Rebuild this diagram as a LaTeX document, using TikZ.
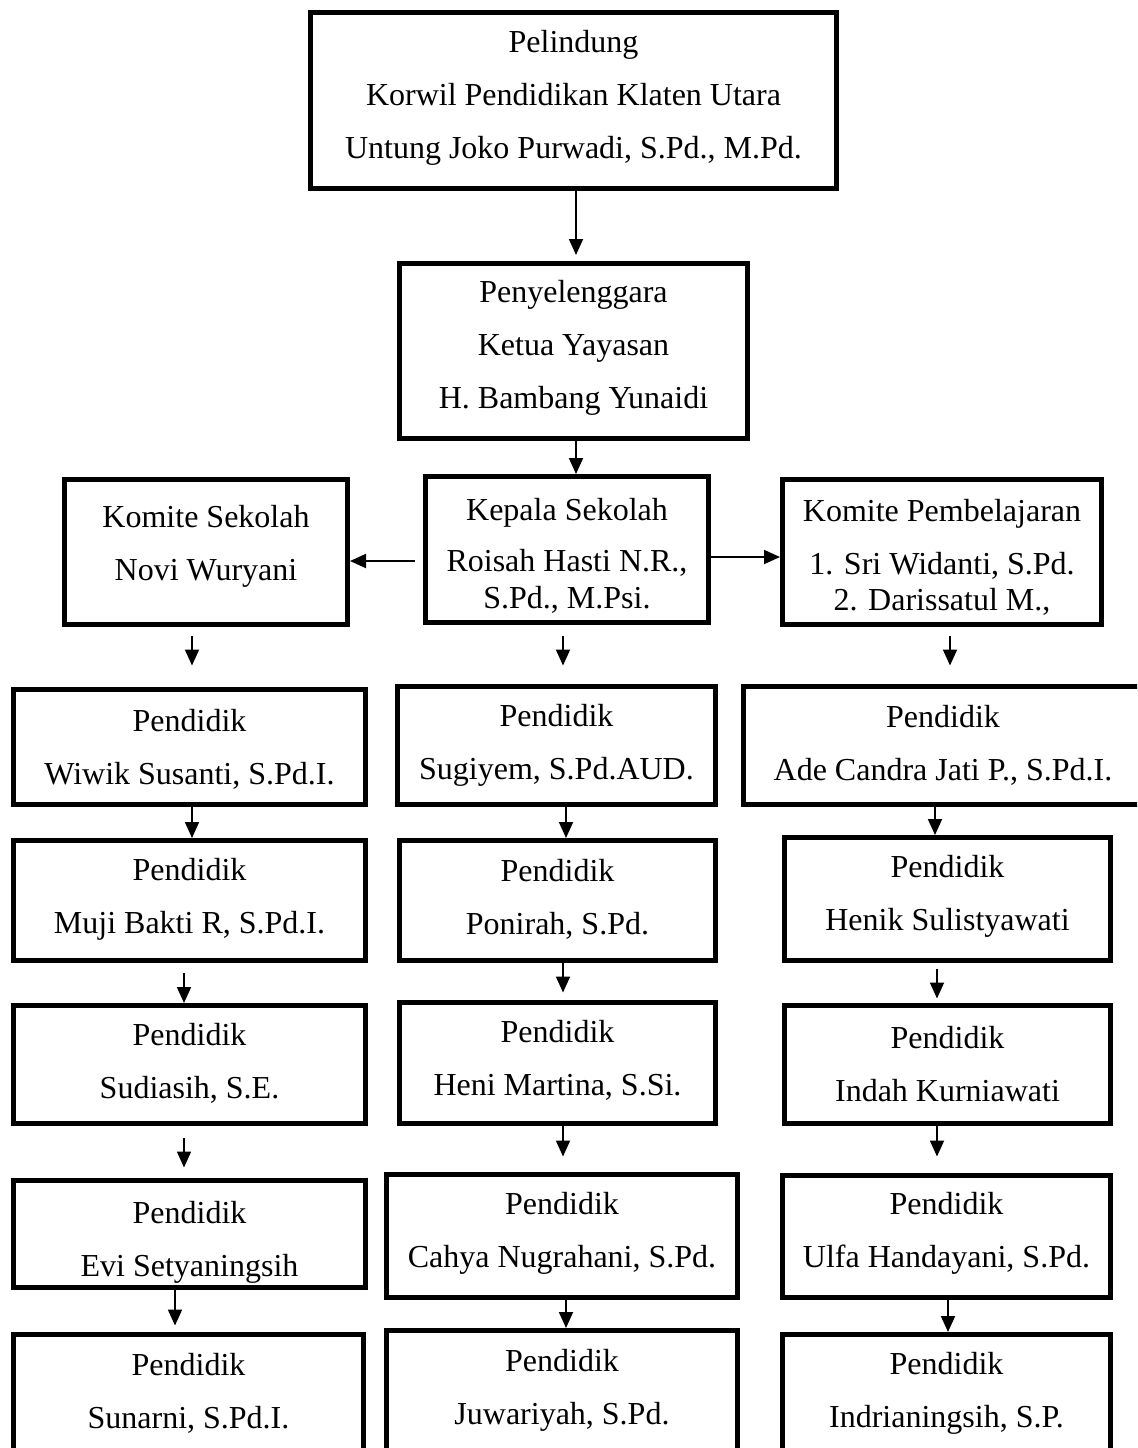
\documentclass[tikz,border=0pt]{standalone}
\usepackage{fontspec}
\setmainfont{Liberation Serif}
\usetikzlibrary{arrows.meta,calc}
\tikzset{
  box/.style={draw, rectangle, line width=2.5pt, inner sep=0pt},
  txt/.style={align=center, font=\fontsize{16}{26.5}\selectfont, inner sep=0pt},
  arr/.style={line width=0.9pt, -{Triangle[length=8pt,width=7pt]}},
}
\newcommand\obox[7]{%
  \node[box, minimum width={(#4-#2-5)*0.5pt}, minimum height={(#5-#3-5)*0.5pt}] (#1) at ({(#2+#4)/2},{(#3+#5)/2}) {};
  \node[txt] (#1t) at ({(#2+#4)/2},#6) {#7};}
\begin{document}
\begin{tikzpicture}[x=0.5pt,y=-0.5pt]
\useasboundingbox (0,0) rectangle (1137,1448);
\clip (0,0) rectangle (1137,1448);
\fill[white] (0,0) rectangle (1137,1448);
% top levels
\obox{top}{308}{10}{839}{191}{97.5}{Pelindung\\Korwil Pendidikan Klaten Utara\\Untung Joko Purwadi, S.Pd., M.Pd.}
\obox{py}{397}{261}{750}{441}{348}{Penyelenggara\\Ketua Yayasan\\H. Bambang Yunaidi}
\obox{kep}{423}{474}{711}{625}{556}{Kepala Sekolah\\[-1pt]Roisah Hasti N.R.,\\[-8pt]S.Pd., M.Psi.}
\obox{ks}{62}{477}{350}{627}{546}{Komite Sekolah\\Novi Wuryani}
\obox{kp}{780}{477}{1104}{627}{557.5}{Komite Pembelajaran\\1. Sri Widanti, S.Pd.\\[-8.5pt]2. Darissatul M.,}
% row 1
\obox{la}{11}{687}{368}{807}{749}{Pendidik\\Wiwik Susanti, S.Pd.I.}
\obox{ca}{395}{684}{718}{807}{745}{Pendidik\\Sugiyem, S.Pd.AUD.}
\obox{ra}{741}{684}{1145}{807}{745}{Pendidik\\Ade Candra Jati P., S.Pd.I.}
% row 2
\obox{lb}{11}{838}{368}{963}{899}{Pendidik\\Muji Bakti R, S.Pd.I.}
\obox{cb}{397}{838}{718}{963}{899}{Pendidik\\Ponirah, S.Pd.}
\obox{rb}{782}{835}{1113}{963}{896}{Pendidik\\Henik Sulistyawati}
% row 3
\obox{lc}{11}{1003}{368}{1126}{1063}{Pendidik\\Sudiasih, S.E.}
\obox{cc}{397}{1000}{718}{1126}{1060}{Pendidik\\Heni Martina, S.Si.}
\obox{rc}{782}{1003}{1113}{1126}{1064}{Pendidik\\Indah Kurniawati}
% row 4
\obox{ld}{11}{1178}{368}{1290}{1242}{Pendidik\\Evi Setyaningsih}
\obox{cd}{384}{1172}{740}{1300}{1233}{Pendidik\\Cahya Nugrahani, S.Pd.}
\obox{rd}{780}{1173}{1113}{1300}{1233}{Pendidik\\Ulfa Handayani, S.Pd.}
% row 5
\obox{le}{11}{1332}{366}{1455}{1393}{Pendidik\\Sunarni, S.Pd.I.}
\obox{ce}{384}{1328}{740}{1455}{1390}{Pendidik\\Juwariyah, S.Pd.}
\obox{re}{780}{1332}{1113}{1455}{1393}{Pendidik\\Indrianingsih, S.P.}
% helper coordinates
\coordinate (xm) at (576,0);
\coordinate (hl) at (0,561);
\coordinate (hr) at (0,557);
\coordinate (x192) at (192,0);
\coordinate (x563) at (563,0);
\coordinate (x566) at (566,0);
\coordinate (x950) at (950,0);
\coordinate (x935) at (935,0);
\coordinate (x184) at (184,0);
\coordinate (x937) at (937,0);
\coordinate (x175) at (175,0);
\coordinate (x948) at (948,0);
% connectors
\draw[arr, shorten >=3pt] (top.south -| xm) -- (py.north -| xm);
\draw[arr] (py.south -| xm) -- (kep.north -| xm);
\draw[arr, shorten <=4pt] (kep.west |- hl) -- (ks.east |- hl);
\draw[arr] (kep.east |- hr) -- (kp.west |- hr);
\draw[arr, shorten <=4.25pt, shorten >=10.75pt] (ks.south -| x192) -- (la.north -| x192);
\draw[arr, shorten <=5.25pt, shorten >=9.25pt] (kep.south -| x563) -- (ca.north -| x563);
\draw[arr, shorten <=4.25pt, shorten >=9.25pt] (kp.south -| x950) -- (ra.north -| x950);
\draw[arr] (la.south -| x192) -- (lb.north -| x192);
\draw[arr] (ca.south -| x566) -- (cb.north -| x566);
\draw[arr] (ra.south -| x935) -- (rb.north -| x935);
\draw[arr, shorten <=4.75pt] (lb.south -| x184) -- (lc.north -| x184);
\draw[arr, shorten >=3.75pt] (cb.south -| x563) -- (cc.north -| x563);
\draw[arr, shorten <=2.75pt, shorten >=2.25pt] (rb.south -| x937) -- (rc.north -| x937);
\draw[arr, shorten <=5.75pt, shorten >=5.25pt] (lc.south -| x184) -- (ld.north -| x184);
\draw[arr, shorten >=7.75pt] (cc.south -| x563) -- (cd.north -| x563);
\draw[arr, shorten >=8.25pt] (rc.south -| x937) -- (rd.north -| x937);
\draw[arr, shorten >=3.25pt] (ld.south -| x175) -- (le.north -| x175);
\draw[arr] (cd.south -| x566) -- (ce.north -| x566);
\draw[arr] (rd.south -| x948) -- (re.north -| x948);
\end{tikzpicture}
\end{document}
